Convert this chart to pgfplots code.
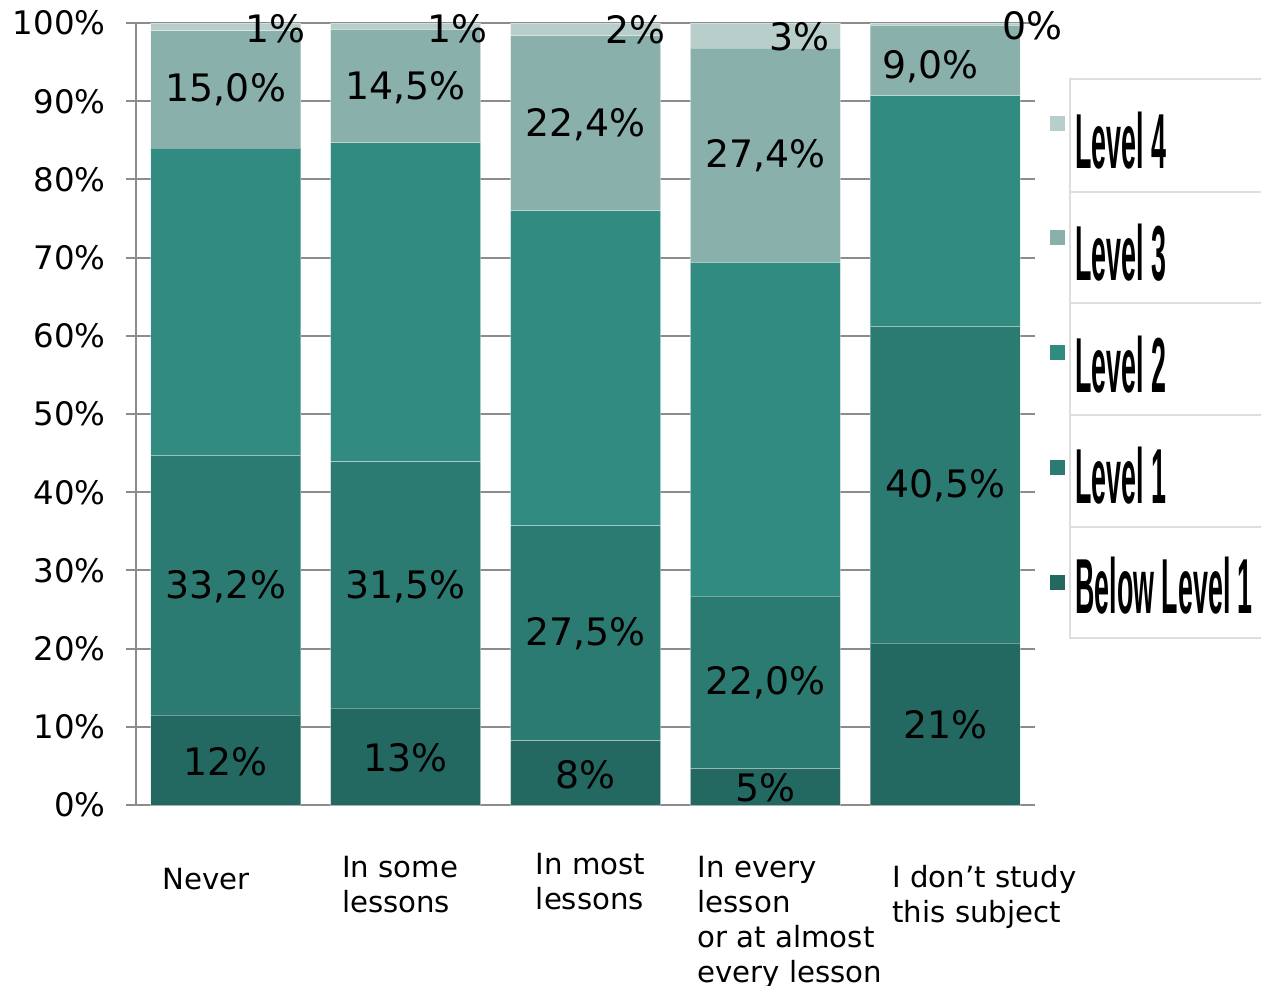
\documentclass[border=0pt]{standalone}
\usepackage{graphicx}
\usepackage{pgfplots}
\pgfplotsset{compat=1.18}
\usepackage{fontspec}
\setmainfont{DejaVu Sans}
\newfontfamily\legfont{Liberation Sans}
\newdimen\px \px=0.5pt
\definecolor{cBL}{HTML}{236962}
\definecolor{cLa}{HTML}{2C7B72}
\definecolor{cLb}{HTML}{318B81}
\definecolor{cLc}{HTML}{89B0AA}
\definecolor{cLd}{HTML}{B8CECA}
\definecolor{gridc}{HTML}{8C8C8C}
\definecolor{legb}{HTML}{DEDEDE}
\tikzset{lbl/.style={font=\fontsize{18.9}{22}\selectfont, inner sep=0pt, anchor=center, text=black}}
\newcommand\xl[3]{\hspace*{#1\px}\raisebox{-#2\px}[\height][\depth]{\begin{tabular}[t]{@{}l@{}}#3\end{tabular}}}
\newcommand\legtxt[1]{\scalebox{0.344}[1]{\legfont\bfseries\fontsize{39}{39}\selectfont #1}}
\begin{document}
\begin{tikzpicture}
\path[use as bounding box] (0,0) rectangle (1261\px,-985\px);
\begin{axis}[
  at={(136\px,-805\px)}, anchor=south west,
  scale only axis, width=899\px, height=782\px,
  xmin=-0.5, xmax=4.5, ymin=0, ymax=100,
  ybar stacked, bar width=150\px,
  axis x line*=bottom, axis y line*=left,
  axis line style={-, draw=gridc, line width=1pt},
  ymajorgrids, grid style={draw=gridc, line width=1pt},
  ytick={0,10,...,100},
  yticklabels={0\%,10\%,20\%,30\%,40\%,50\%,60\%,70\%,80\%,90\%,100\%},
  tick align=outside, major tick length=10\px,
  ytick style={draw=gridc, line width=1pt},
  xtick style={draw=none},
  ytick pos=left,
  yticklabel style={anchor=east, inner sep=0pt, xshift=-20\px, font=\fontsize{16.2}{19}\selectfont},
  xtick={0,1,2,3,4},
  xticklabels={{\xl{0}{15}{Never}},{\xl{0}{3}{In some\\lessons}},{\xl{14}{0}{In most\\lessons}},{\xl{-4}{3}{In every\\lesson\\or at almost\\every lesson}},{\xl{11}{13}{I don’t study\\this subject}}},
  xticklabel style={anchor=north west, inner sep=0pt, xshift=-64\px, yshift=-35\px, font=\fontsize{14.6}{17.4}\selectfont},
  clip=false,
]
\addplot[fill=cBL, draw=white, draw opacity=0.35, line width=0.5pt] coordinates {(0,11.5) (1,12.4) (2,8.2) (3,4.7) (4,20.7)};
\addplot[fill=cLa, draw=white, draw opacity=0.35, line width=0.5pt] coordinates {(0,33.2) (1,31.5) (2,27.5) (3,22.0) (4,40.5)};
\addplot[fill=cLb, draw=white, draw opacity=0.35, line width=0.5pt] coordinates {(0,39.3) (1,40.8) (2,40.3) (3,42.7) (4,29.5)};
\addplot[fill=cLc, draw=white, draw opacity=0.35, line width=0.5pt] coordinates {(0,15.0) (1,14.5) (2,22.4) (3,27.4) (4,9.0)};
\addplot[fill=cLd, draw=white, draw opacity=0.35, line width=0.5pt] coordinates {(0,1.0) (1,0.8) (2,1.6) (3,3.2) (4,0.3)};
% label anchors
\coordinate (a1) at (axis cs:0,5.50);
\coordinate (a2) at (axis cs:0,27.88);
\coordinate (a3) at (axis cs:0,91.43);
\coordinate (a4) at (axis cs:0.273,99.23);
\coordinate (b1) at (axis cs:1,6.01);
\coordinate (b2) at (axis cs:1,27.88);
\coordinate (b3) at (axis cs:1,91.69);
\coordinate (b4) at (axis cs:1.289,99.23);
\coordinate (c1) at (axis cs:2,3.84);
\coordinate (c2) at (axis cs:2,21.87);
\coordinate (c3) at (axis cs:2,86.96);
\coordinate (c4) at (axis cs:2.278,99.10);
\coordinate (d1) at (axis cs:3,2.17);
\coordinate (d2) at (axis cs:3,15.60);
\coordinate (d3) at (axis cs:3,82.99);
\coordinate (d4) at (axis cs:3.189,98.21);
\coordinate (e1) at (axis cs:4,10.23);
\coordinate (e2) at (axis cs:4,40.79);
\coordinate (e3) at (axis cs:3.917,94.37);
\coordinate (e4) at (axis cs:4.484,99.62);
\end{axis}
% data labels
\node[lbl] at (a1) {12\%};
\node[lbl] at (a2) {33,2\%};
\node[lbl] at (a3) {15,0\%};
\node[lbl] at (a4) {1\%};
\node[lbl] at (b1) {13\%};
\node[lbl] at (b2) {31,5\%};
\node[lbl] at (b3) {14,5\%};
\node[lbl] at (b4) {1\%};
\node[lbl] at (c1) {8\%};
\node[lbl] at (c2) {27,5\%};
\node[lbl] at (c3) {22,4\%};
\node[lbl] at (c4) {2\%};
\node[lbl] at (d1) {5\%};
\node[lbl] at (d2) {22,0\%};
\node[lbl] at (d3) {27,4\%};
\node[lbl] at (d4) {3\%};
\node[lbl] at (e1) {21\%};
\node[lbl] at (e2) {40,5\%};
\node[lbl] at (e3) {9,0\%};
\node[lbl] at (e4) {0\%};
% legend
\draw[draw=legb, line width=1.2pt] (1070\px,-79\px) rectangle (1300\px,-192\px);
\draw[draw=legb, line width=1.2pt] (1070\px,-192\px) rectangle (1300\px,-303\px);
\draw[draw=legb, line width=1.2pt] (1070\px,-303\px) rectangle (1300\px,-415\px);
\draw[draw=legb, line width=1.2pt] (1070\px,-415\px) rectangle (1300\px,-527\px);
\draw[draw=legb, line width=1.2pt] (1070\px,-527\px) rectangle (1300\px,-638\px);
\fill[cLd] (1050\px,-116\px) rectangle (1065\px,-131\px);
\fill[cLc] (1050\px,-230\px) rectangle (1065\px,-245\px);
\fill[cLb] (1050\px,-345\px) rectangle (1065\px,-360\px);
\fill[cLa] (1050\px,-460\px) rectangle (1065\px,-475\px);
\fill[cBL] (1050\px,-575\px) rectangle (1065\px,-590\px);
\node[anchor=base west, inner sep=0pt] at (1075\px,-168\px) {\legtxt{Level 4}};
\node[anchor=base west, inner sep=0pt] at (1075\px,-280\px) {\legtxt{Level 3}};
\node[anchor=base west, inner sep=0pt] at (1075\px,-392\px) {\legtxt{Level 2}};
\node[anchor=base west, inner sep=0pt] at (1075\px,-503\px) {\legtxt{Level 1}};
\node[anchor=base west, inner sep=0pt] at (1075\px,-613\px) {\legtxt{Below Level 1}};
\end{tikzpicture}
\end{document}
